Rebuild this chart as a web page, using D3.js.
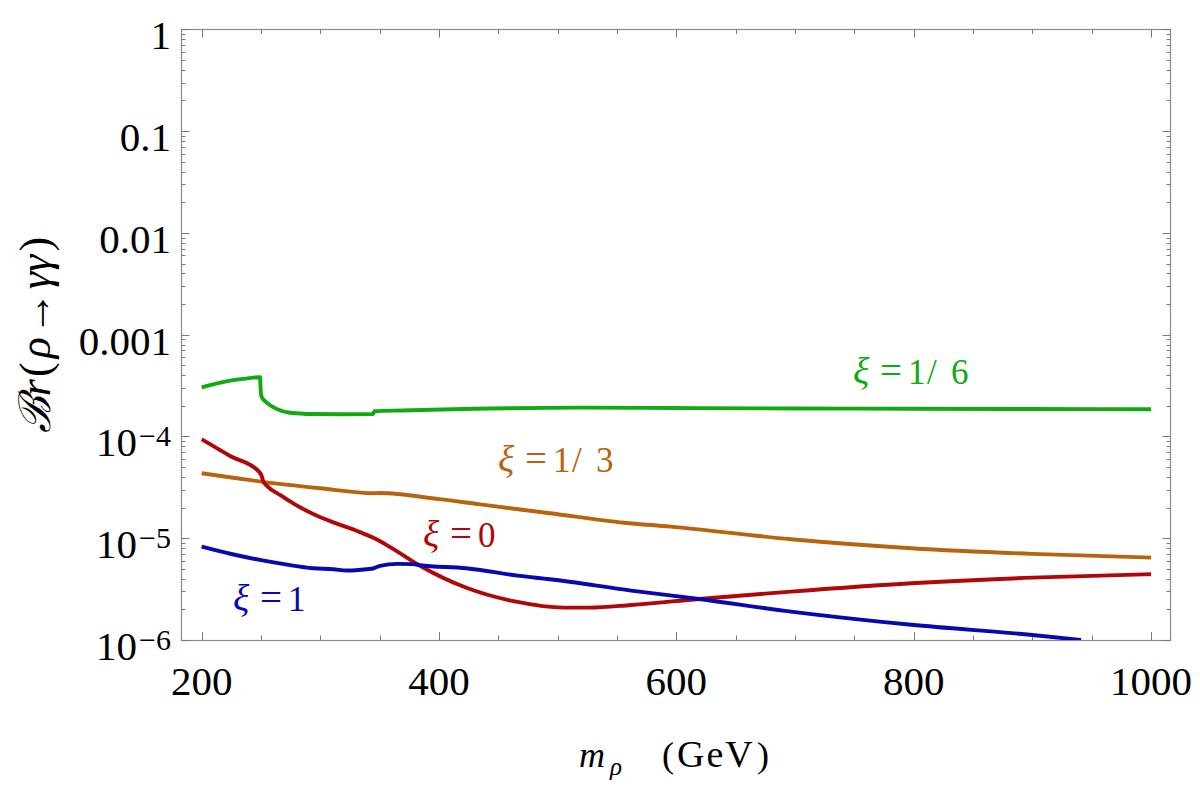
<!DOCTYPE html>
<html><head><meta charset="utf-8">
<script src="https://cdn.jsdelivr.net/npm/d3@7"></script>
<style>body{margin:0;background:#fff}</style>
</head><body>
<svg id="c" width="1200" height="786" xmlns="http://www.w3.org/2000/svg"></svg>
<script>
// ---- data ----
const xDomain = [183, 1016];
const yDomain = [1e-6, 1];
const xMajorTicks = [200, 400, 600, 800, 1000];
const xTickLabels = ["200", "400", "600", "800", "1000"];
const yMajorTicks = [1, 0.1, 0.01, 0.001, 1e-4, 1e-5, 1e-6];
const yTickBase = ["1", "0.1", "0.01", "0.001", "10", "10", "10"];
const yTickExp = ["", "", "", "", "−4", "−5", "−6"];
const seriesLabels = ["1/6", "1/3", "0", "1"];

// xi = 1/6 (green)
const xi16 = [[200,3.04e-4],[212,3.3e-4],[224,3.53e-4],[237,3.7e-4],[249.3,3.82e-4],[249.6,3.0e-4],[250.4,2.46e-4],[254.8,2.15e-4],[263.2,1.86e-4],[274.4,1.71e-4],[294,1.66e-4],[320,1.65e-4],[344.6,1.66e-4],[345.4,1.77e-4],[370,1.8e-4],[430,1.87e-4],[519,1.92e-4],[600,1.9e-4],[700,1.88e-4],[800,1.87e-4],[900,1.86e-4],[1000,1.85e-4]];
// xi = 1/3 (orange)
const xi13 = [[200,4.35e-5],[225,3.95e-5],[250,3.6e-5],[300,3.1e-5],[345,2.77e-5],[350,2.78e-5],[400,2.42e-5],[434.5,2.15e-5],[493.5,1.76e-5],[556,1.42e-5],[595,1.3e-5],[696.6,9.77e-6],[798,7.98e-6],[900,7.01e-6],[1000,6.45e-6]];
// xi = 0 (red)
const xi0 = [[200,9.39e-5],[224,6.43e-5],[249,4.41e-5],[250.5,4.1e-5],[252,3.6e-5],[255,3.27e-5],[266,2.66e-5],[280,2.1e-5],[294,1.73e-5],[311,1.43e-5],[330,1.19e-5],[345.5,1.0e-5],[350,9.4e-6],[367,7.13e-6],[384,5.37e-6],[422,3.3e-6],[465,2.38e-6],[505,2.08e-6],[527,2.08e-6],[562,2.21e-6],[619,2.53e-6],[696.6,2.99e-6],[798,3.61e-6],[900,4.1e-6],[1000,4.43e-6]];
// xi = 1 (blue)
const xi1 = [[200,8.27e-6],[225,7.0e-6],[249,6.12e-6],[272,5.5e-6],[294,5.07e-6],[311,4.96e-6],[322.5,4.81e-6],[339,4.96e-6],[345,5.07e-6],[350.3,5.35e-6],[365,5.6e-6],[378,5.56e-6],[384,5.43e-6],[423,5.07e-6],[468,4.26e-6],[493.5,3.95e-6],[562,3.06e-6],[619,2.53e-6],[696.6,1.9e-6],[798,1.41e-6],[900,1.12e-6],[941,1.0e-6]];

// ---- layout ----
const L = 181.5, R = 1170.5, T = 29.3, B = 640;
const svg = d3.select("#c");
const x = d3.scaleLinear().domain(xDomain).range([L, R - 0.5]);
const y = d3.scaleLog().domain(yDomain).range([B, T]);
const serif = "'Liberation Serif','Times New Roman',serif";
const frameColor = "#8a8a8a";

// frame
svg.append("rect").attr("x", L).attr("y", 29.5).attr("width", R - L).attr("height", B + 0.5 - 29.5)
  .attr("fill", "none").attr("stroke", frameColor).attr("stroke-width", 1.2);

// ticks
const tickG = svg.append("g").attr("stroke", "#7a7a7a").attr("stroke-width", 1);
const xMinor = d3.range(200, 1001, 50).filter(v => !xMajorTicks.includes(v));
xMajorTicks.forEach(v => {
  const px = Math.round(x(v)) + 0.5;
  tickG.append("line").attr("x1", px).attr("x2", px).attr("y1", B).attr("y2", B - 8);
  tickG.append("line").attr("x1", px).attr("x2", px).attr("y1", 29.5).attr("y2", 29.5 + 8);
});
xMinor.forEach(v => {
  const px = Math.round(x(v)) + 0.5;
  tickG.append("line").attr("x1", px).attr("x2", px).attr("y1", B).attr("y2", B - 4.5);
  tickG.append("line").attr("x1", px).attr("x2", px).attr("y1", 29.5).attr("y2", 29.5 + 4.5);
});
const yMinor = [];
for (let e = -6; e < 0; e++) for (let m = 2; m <= 9; m++) yMinor.push(m * Math.pow(10, e));
yMajorTicks.forEach(v => {
  const py = Math.round(y(v)) + 0.5;
  tickG.append("line").attr("x1", L).attr("x2", L + 8).attr("y1", py).attr("y2", py);
  tickG.append("line").attr("x1", R).attr("x2", R - 8).attr("y1", py).attr("y2", py);
});
yMinor.forEach(v => {
  const py = Math.round(y(v)) + 0.5;
  tickG.append("line").attr("x1", L).attr("x2", L + 4).attr("y1", py).attr("y2", py);
  tickG.append("line").attr("x1", R).attr("x2", R - 4).attr("y1", py).attr("y2", py);
});

// tick labels
xMajorTicks.forEach((v, i) => {
  svg.append("text").attr("x", x(v)).attr("y", 695).attr("text-anchor", "middle")
    .attr("font-family", serif).attr("font-size", 41).attr("fill", "#000").text(xTickLabels[i]);
});
yMajorTicks.forEach((v, i) => {
  const t = svg.append("text").attr("x", 171).attr("y", y(v) + 20).attr("text-anchor", "end")
    .attr("font-family", serif).attr("font-size", 41).attr("fill", "#000");
  t.append("tspan").text(yTickBase[i]);
  if (yTickExp[i]) {
    t.append("tspan").attr("dy", -10).attr("font-size", 30).attr("dx", 2).text(yTickExp[i]);
  }
});

// axis titles
const xt = svg.append("text").attr("y", 767).attr("font-family", serif).attr("font-size", 36).attr("fill", "#000");
xt.append("tspan").attr("x", 579).attr("font-style", "italic").text("m");
xt.append("tspan").attr("x", 610).attr("font-style", "italic").attr("font-size", 25).attr("dy", 8).text("ρ");
xt.append("tspan").attr("x", 662).attr("dy", -8).text("(");
xt.append("tspan").attr("x", 677).attr("font-size", 38).attr("letter-spacing", 2).text("GeV");
xt.append("tspan").attr("x", 757).text(")");

const yt = svg.append("text").attr("transform", "translate(50,335) rotate(-90)")
  .attr("text-anchor", "middle").attr("font-family", serif).attr("font-size", 44).attr("fill", "#000");
yt.append("tspan").attr("font-style", "italic").text("ℬr");
yt.append("tspan").attr("dx", 2).text("(");
yt.append("tspan").attr("dx", 4).attr("font-style", "italic").text("ρ");
yt.append("tspan").attr("dx", 2).text("→");
yt.append("tspan").attr("dx", 2).attr("font-style", "italic").text("γγ");
yt.append("tspan").attr("dx", 3).text(")");

// curves
svg.append("clipPath").attr("id", "clip").append("rect").attr("x", L).attr("y", T).attr("width", R - L).attr("height", B - T);
const line = d3.line().x(d => x(d[0])).y(d => y(d[1])).curve(d3.curveMonotoneX);
const series = [
  {data: xi16, color: "#12aa12"},
  {data: xi13, color: "#b8640f"},
  {data: xi0,  color: "#b00808"},
  {data: xi1,  color: "#0808b0"}
];
const cg = svg.append("g").attr("clip-path", "url(#clip)");
series.forEach(s => {
  cg.append("path").attr("d", line(s.data)).attr("fill", "none").attr("stroke", s.color)
    .attr("stroke-width", 3.9).attr("stroke-linejoin", "round");
});

// curve labels: glyph offsets relative to the label's left edge
const labelPos = [
  {x: 855, y: 384},
  {x: 500, y: 471.7},
  {x: 425, y: 546.7},
  {x: 235, y: 610.7}
];
seriesLabels.forEach((lab, i) => {
  const p = labelPos[i];
  const t = svg.append("text").attr("y", p.y).attr("font-family", serif)
    .attr("font-size", 35).attr("fill", series[i].color);
  t.append("tspan").attr("x", p.x - 2).attr("font-style", "italic").attr("font-size", 38).text("ξ");
  t.append("tspan").attr("x", p.x + 25).attr("font-size", 39).text("=");
  const parts = lab.split("/");
  t.append("tspan").attr("x", p.x + 53).text(parts[0]);
  if (parts.length > 1) {
    t.append("tspan").attr("x", p.x + 72).text("/");
    t.append("tspan").attr("x", p.x + 96).text(parts[1]);
  }
});
</script>
</body></html>
